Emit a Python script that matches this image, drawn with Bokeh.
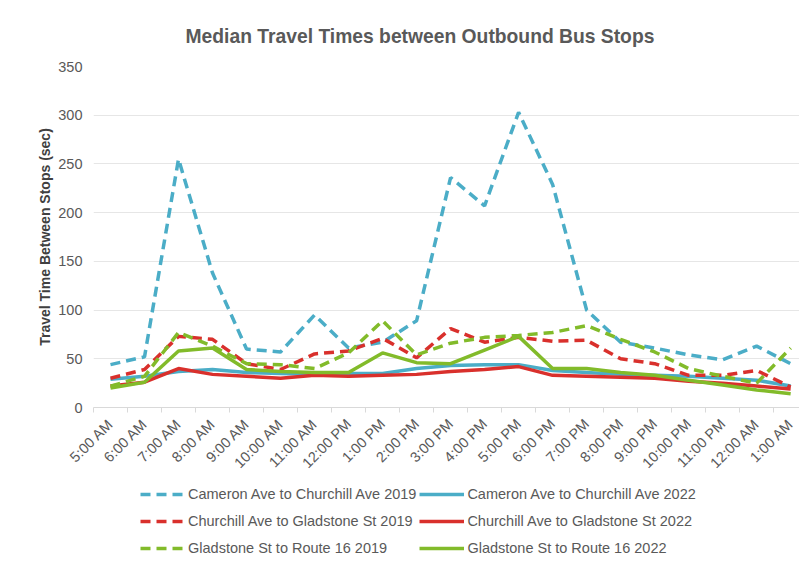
import math
from bokeh.plotting import figure
from bokeh.layouts import column
from bokeh.models import Range1d, FixedTicker, Legend, LegendItem
from bokeh.embed import file_html
from bokeh.resources import INLINE

hours = ["5:00 AM", "6:00 AM", "7:00 AM", "8:00 AM", "9:00 AM", "10:00 AM", "11:00 AM",
         "12:00 PM", "1:00 PM", "2:00 PM", "3:00 PM", "4:00 PM", "5:00 PM", "6:00 PM",
         "7:00 PM", "8:00 PM", "9:00 PM", "10:00 PM", "11:00 PM", "12:00 AM", "1:00 AM"]

cameron_2019 = [44, 52, 255, 138, 60, 57, 95, 61, 67, 89, 236, 207, 303, 229, 100, 67, 61, 54, 49, 63, 45]
cameron_2022 = [29, 32, 37, 39, 36, 35, 34, 35, 35, 40, 43, 44, 44, 38, 36, 34, 33, 32, 30, 28, 22]
churchill_2019 = [30, 39, 73, 70, 45, 39, 55, 58, 71, 51, 81, 67, 72, 68, 69, 50, 45, 33, 33, 38, 21]
churchill_2022 = [22, 26, 40, 34, 32, 30, 33, 32, 33, 34, 37, 39, 42, 33, 32, 31, 30, 27, 25, 22, 19]
gladstone_2019 = [22, 32, 77, 63, 45, 44, 40, 56, 89, 54, 66, 72, 74, 77, 84, 70, 57, 40, 32, 25, 61]
gladstone_2022 = [20, 26, 58, 61, 39, 37, 36, 36, 56, 46, 45, 59, 73, 40, 40, 36, 33, 28, 23, 18, 14]

y_ticks = [0, 50, 100, 150, 200, 250, 300, 350]

series = [
    ("Cameron Ave to Churchill Ave 2019", cameron_2019, "#4BADC7", "10 6"),
    ("Cameron Ave to Churchill Ave 2022", cameron_2022, "#4BADC7", "solid"),
    ("Churchill Ave to Gladstone St 2019", churchill_2019, "#D9302C", "10 6"),
    ("Churchill Ave to Gladstone St 2022", churchill_2022, "#D9302C", "solid"),
    ("Gladstone St to Route 16 2019", gladstone_2019, "#82BB2A", "10 6"),
    ("Gladstone St to Route 16 2022", gladstone_2022, "#82BB2A", "solid"),
]

FONT = "Liberation Sans"
n = len(hours)
xs = list(range(n))

# ---------------- main chart ----------------
p = figure(width=799, height=479, output_backend="svg", toolbar_location=None,
           x_range=Range1d(-0.5, 20.26), y_range=Range1d(y_ticks[0], y_ticks[-1]),
           min_border_left=93, min_border_right=0, min_border_top=66, min_border_bottom=70,
           title="Median Travel Times between Outbound Bus Stops")

p.outline_line_color = None
p.background_fill_color = "white"
p.border_fill_color = "white"

p.title.align = "left"
p.title.offset = 92
p.title.standoff = 39
p.title.text_font = FONT
p.title.text_font_size = "19.3px"
p.title.text_font_style = "bold"
p.title.text_color = "#595959"

xa = p.xaxis[0]
xa.ticker = FixedTicker(ticks=xs, minor_ticks=[i - 0.5 for i in range(n + 1)])
xa.major_label_overrides = {i: h for i, h in enumerate(hours)}
xa.major_label_orientation = math.pi / 4
xa.major_tick_line_color = None
xa.major_tick_out = 0
xa.major_tick_in = 0
xa.minor_tick_line_color = "#d9d9d9"
xa.minor_tick_out = 5
xa.minor_tick_in = 0
xa.axis_line_color = "#d9d9d9"
xa.major_label_standoff = 9
xa.major_label_text_font = FONT
xa.major_label_text_font_size = "14.5px"
xa.major_label_text_color = "#595959"

ya = p.yaxis[0]
ya.ticker = FixedTicker(ticks=y_ticks)
ya.axis_line_color = None
ya.major_tick_line_color = None
ya.minor_tick_line_color = None
ya.major_tick_out = 0
ya.major_tick_in = 0
ya.major_label_standoff = 11
ya.major_label_text_font = FONT
ya.major_label_text_font_size = "14.5px"
ya.major_label_text_color = "#595959"
ya.axis_label = "Travel Time Between Stops (sec)"
ya.axis_label_text_font = FONT
ya.axis_label_text_font_size = "14px"
ya.axis_label_text_font_style = "bold"
ya.axis_label_text_color = "#404040"
ya.axis_label_standoff = 2

p.xgrid.visible = False
p.ygrid.grid_line_color = "#e6e6e6"
p.ygrid.grid_line_width = 1

for label, vals, color, dash in series:
    p.line(xs, vals, line_color=color, line_width=3.5, line_dash=dash)

# ---------------- legend strip (same series, drawn outside its visible range) ----------------
lg = figure(width=799, height=84, output_backend="svg", toolbar_location=None,
            x_range=Range1d(0, 1), y_range=Range1d(-2000, -1000),
            min_border_left=0, min_border_right=0, min_border_top=0, min_border_bottom=0)
lg.axis.visible = False
lg.grid.visible = False
lg.outline_line_color = None
lg.background_fill_color = "white"
lg.border_fill_color = "white"

items = []
for label, vals, color, dash in series:
    r = lg.line(xs, vals, line_color=color, line_width=3.5, line_dash=dash)
    items.append(LegendItem(label=label, renderers=[r]))

legend = Legend(items=items, orientation="horizontal", ncols=2, location=(47, 3))
legend.label_text_font = FONT
legend.label_text_font_size = "14.5px"
legend.label_text_color = "#595959"
legend.glyph_width = 45
legend.glyph_height = 20
legend.label_standoff = 3
legend.label_height = 24
legend.spacing = 3
legend.padding = 0
legend.margin = 0
legend.border_line_color = None
legend.background_fill_alpha = 0
lg.add_layout(legend)

layout = column(p, lg, spacing=0)
open("out.html", "w").write(file_html(layout, INLINE))
